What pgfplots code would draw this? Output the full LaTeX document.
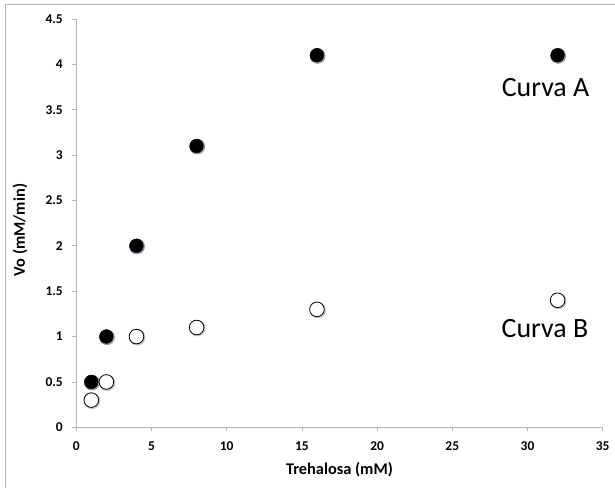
\documentclass[border=0pt]{standalone}
\usepackage{pgfplots}
\pgfplotsset{compat=1.18}
\usepackage{graphicx}
\usepackage{fontspec}
\setmainfont{Carlito}
\definecolor{axgray}{RGB}{180,180,180}
\definecolor{shadowc}{RGB}{70,100,150}
\begin{document}
\begin{tikzpicture}[x=1bp,y=1bp]
\useasboundingbox (-76.3,-63.7) rectangle (538.7,427.3);
\draw[color=axgray,line width=0.8bp] (-71.3,-60.7) -- (-71.3,423.3) -- (540,423.3);
\begin{axis}[
  at={(0,0)}, anchor=south west,
  scale only axis, width=526.4bp, height=408.3bp,
  xmin=0, xmax=35, ymin=0, ymax=4.5,
  xtick={0,5,...,35}, ytick={0,0.5,...,4.5},
  axis x line*=bottom, axis y line*=left,
  axis line style={color=axgray, line width=0.8bp, -},
  tick style={color=axgray, line width=0.8bp},
  tick align=outside, major tick length=4bp,
  xticklabel={\scalebox{1.35}{\bfseries\pgfmathprintnumber[assume math mode=true,fixed]{\tick}}},
  yticklabel={\scalebox{1.35}{\bfseries\pgfmathprintnumber[assume math mode=true,fixed]{\tick}}},
  every tick label/.style={text=black},
  xticklabel style={yshift=-7bp},
  yticklabel style={xshift=-6bp},
  xlabel={\scalebox{1.64}{\bfseries Trehalosa (mM)}},
  ylabel={\scalebox{1.64}{\bfseries Vo (mM/min)}},
  every axis x label/.style={at={(axis description cs:0.5,0)}, anchor=center, yshift=-42.7bp},
  every axis y label/.style={at={(axis description cs:0,0.5)}, anchor=center, xshift=-56.3bp, yshift=-6.8bp, rotate=90},
  clip=false,
]
% shadows
\addplot[only marks, mark=*, mark size=7.6bp, mark options={draw=none, fill=shadowc, opacity=0.45, xshift=0.6bp, yshift=-0.6bp}]
  coordinates {(1,0.5) (2,1) (4,2) (8,3.1) (16,4.1) (32,4.1)};
\addplot[only marks, mark=*, mark size=7.9bp, mark options={draw=none, fill=black, opacity=0.2, xshift=0.8bp, yshift=-0.8bp}]
  coordinates {(1,0.3) (2,0.5) (4,1) (8,1.1) (16,1.3) (32,1.4)};
% Curva B (open)
\addplot[only marks, mark=*, mark size=7.3bp, mark options={draw=black, fill=white, line width=0.8bp}]
  coordinates {(1,0.3) (2,0.5) (4,1) (8,1.1) (16,1.3) (32,1.4)};
% Curva A (filled)
\addplot[only marks, mark=*, mark size=6.9bp, mark options={draw=black, fill=black}]
  coordinates {(1,0.5) (2,1) (4,2) (8,3.1) (16,4.1) (32,4.1)};
\end{axis}
\node[font=\fontsize{28}{30}\selectfont, anchor=center] at (545.5-76.3, 427.3-88) {Curva A};
\node[font=\fontsize{28}{30}\selectfont, anchor=center] at (545-76.3, 427.3-328.5) {Curva B};
\end{tikzpicture}
\end{document}
